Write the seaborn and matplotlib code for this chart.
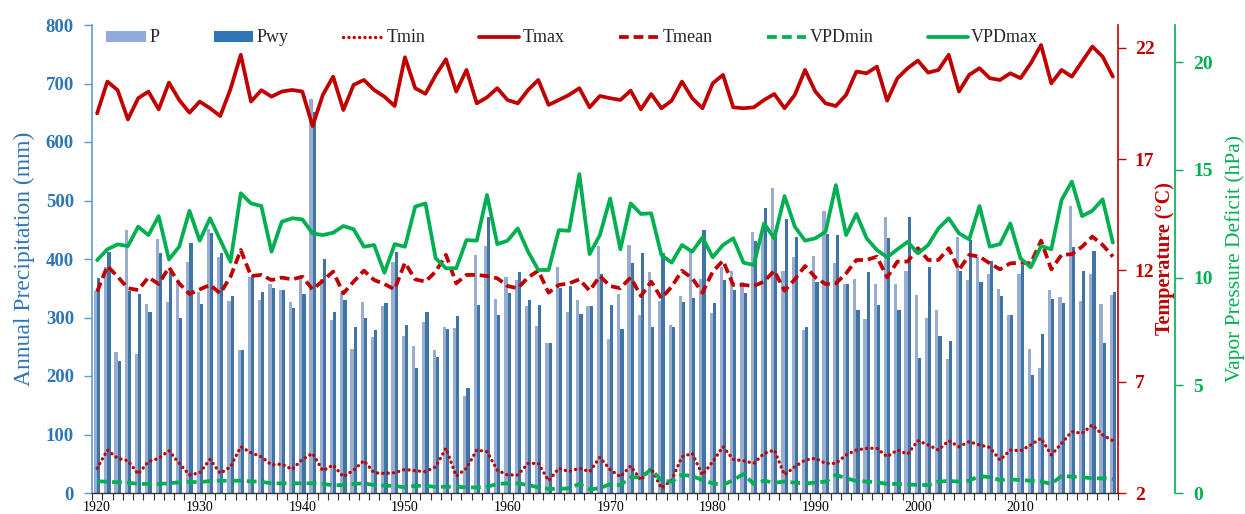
import numpy as np
import pandas as pd
import matplotlib
matplotlib.use("Agg")
import matplotlib.pyplot as plt
from matplotlib.patches import Patch
from matplotlib.lines import Line2D
from matplotlib.ticker import FixedLocator, NullFormatter
import seaborn as sns

# ---------------------------------------------------------------- data
years = list(range(1920, 2020))

# annual precipitation (mm): calendar year and water year
P = [346, 386, 241, 450, 237, 323, 434, 327, 359, 395, 343, 451, 403, 329, 244, 370, 330,
     357, 347, 326, 365, 673, 366, 296, 342, 246, 327, 267, 319, 395, 268, 251, 293, 244,
     283, 282, 166, 407, 422, 331, 370, 364, 320, 285, 257, 387, 309, 330, 320, 422, 263,
     341, 424, 304, 377, 329, 288, 336, 413, 366, 308, 386, 380, 361, 447, 444, 521,
     380, 404, 279, 405, 482, 393, 357, 366, 298, 358, 472, 357, 380, 339, 300, 312, 229,
     437, 364, 403, 374, 348, 304, 375, 247, 214, 347, 335, 491, 329, 375, 323, 339]
Pwy = [367, 412, 225, 345, 341, 309, 410, 378, 299, 428, 323, 444, 410, 336, 245, 372, 343,
       350, 347, 317, 340, 652, 400, 309, 330, 284, 300, 279, 324, 412, 288, 213, 309, 232,
       281, 303, 180, 322, 472, 304, 342, 378, 330, 321, 257, 351, 354, 306, 320, 374, 321,
       281, 394, 410, 283, 410, 284, 327, 333, 450, 324, 364, 347, 342, 430, 488, 450,
       469, 437, 283, 360, 442, 441, 357, 313, 378, 321, 436, 313, 471, 230, 387, 268, 259,
       380, 432, 361, 397, 337, 304, 390, 202, 271, 331, 324, 421, 380, 414, 257, 344]

# air temperature (deg C)
Tmin = [3.11, 3.93, 3.56, 3.45, 2.85, 3.41, 3.56, 3.90, 3.33, 2.81, 2.91, 3.51, 2.88, 3.18, 4.08, 3.81, 3.63,
        3.26, 3.30, 3.06, 3.51, 3.78, 3.00, 3.26, 2.73, 3.03, 3.45, 2.91, 2.88, 2.91, 3.06, 3.00, 2.96, 3.18,
        4.01, 2.76, 3.11, 3.93, 3.86, 3.03, 2.81, 2.81, 3.33, 3.33, 2.55, 3.11, 2.96, 3.11, 2.96, 3.60, 3.05,
        2.73, 3.21, 2.58, 3.11, 2.21, 2.58, 3.63, 3.78, 2.81, 3.41, 4.08, 3.51, 3.45, 3.33, 3.78, 3.93,
        2.81, 3.18, 3.48, 3.56, 3.33, 3.33, 3.71, 3.93, 4.01, 4.01, 3.63, 3.93, 3.75, 4.35, 4.16, 3.93, 4.35,
        4.08, 4.31, 4.16, 4.05, 3.48, 3.93, 3.90, 4.16, 4.46, 3.71, 4.23, 4.76, 4.68, 5.06, 4.61, 4.35]
Tmax = [19.06, 20.49, 20.10, 18.79, 19.74, 20.04, 19.24, 20.44, 19.66, 19.09, 19.59, 19.29, 18.94, 20.15, 21.69, 19.59, 20.10,
        19.81, 20.04, 20.11, 20.04, 18.49, 19.89, 20.71, 19.21, 20.34, 20.56, 20.11, 19.81, 19.39, 21.58, 20.19, 19.94, 20.78,
        21.49, 20.04, 21.01, 19.51, 19.78, 20.19, 19.66, 19.51, 20.11, 20.56, 19.44, 19.66, 19.89, 20.19, 19.33, 19.84, 19.74,
        19.66, 20.08, 19.24, 19.93, 19.29, 19.63, 20.49, 19.74, 19.29, 20.41, 20.79, 19.33, 19.29, 19.33, 19.66, 19.93,
        19.29, 19.89, 21.01, 20.04, 19.51, 19.39, 19.89, 20.94, 20.86, 21.16, 19.63, 20.64, 21.09, 21.43, 20.89, 21.01, 21.69,
        20.04, 20.79, 21.09, 20.64, 20.56, 20.86, 20.64, 21.31, 22.13, 20.41, 21.01, 20.71, 21.39, 22.06, 21.61, 20.71]
Tmean = [11.05, 12.20, 11.72, 11.20, 11.12, 11.69, 11.39, 12.14, 11.42, 10.94, 11.15, 11.35, 10.97, 11.72, 12.92, 11.75, 11.80,
         11.57, 11.68, 11.60, 11.72, 11.15, 11.54, 11.95, 10.97, 11.50, 11.99, 11.57, 11.39, 11.15, 12.35, 11.60, 11.50, 11.95,
         12.70, 11.42, 11.80, 11.80, 11.75, 11.65, 11.30, 11.20, 11.69, 11.99, 11.00, 11.35, 11.42, 11.60, 11.09, 11.75, 11.30,
         11.20, 11.69, 10.85, 11.50, 10.75, 11.27, 11.99, 11.65, 11.00, 11.95, 12.44, 11.35, 11.35, 11.30, 11.50, 11.99,
         11.09, 11.60, 12.20, 11.69, 11.39, 11.42, 11.87, 12.47, 12.47, 12.62, 11.69, 12.40, 12.40, 13.00, 12.47, 12.47, 13.00,
         12.02, 12.70, 12.62, 12.32, 12.05, 12.32, 12.35, 12.32, 13.34, 12.05, 12.70, 12.73, 13.07, 13.52, 13.15, 12.62]

# vapor pressure deficit (hPa)
VPDmin = [0.55, 0.52, 0.50, 0.48, 0.42, 0.42, 0.42, 0.45, 0.50, 0.52, 0.50, 0.56, 0.57, 0.57, 0.57, 0.54, 0.52,
          0.45, 0.45, 0.45, 0.45, 0.45, 0.42, 0.36, 0.37, 0.42, 0.45, 0.37, 0.34, 0.33, 0.26, 0.33, 0.34, 0.28,
          0.29, 0.29, 0.26, 0.26, 0.29, 0.42, 0.45, 0.45, 0.37, 0.26, 0.19, 0.19, 0.22, 0.42, 0.17, 0.22, 0.42,
          0.37, 0.73, 0.73, 1.10, 0.57, 0.53, 0.84, 0.79, 0.60, 0.45, 0.37, 0.60, 0.88, 0.42, 0.57, 0.48,
          0.53, 0.48, 0.45, 0.48, 0.53, 0.84, 0.68, 0.56, 0.53, 0.50, 0.42, 0.42, 0.40, 0.37, 0.37, 0.53, 0.56,
          0.53, 0.57, 0.79, 0.73, 0.60, 0.63, 0.60, 0.57, 0.53, 0.42, 0.79, 0.76, 0.73, 0.68, 0.68, 0.63]
VPDmax = [10.81, 11.31, 11.54, 11.46, 12.36, 11.97, 12.85, 10.84, 11.43, 13.10, 11.71, 12.75, 11.74, 10.73, 13.91, 13.44, 13.32,
          11.20, 12.59, 12.75, 12.70, 12.05, 11.97, 12.08, 12.39, 12.24, 11.43, 11.51, 10.22, 11.55, 11.43, 13.29, 13.44, 10.89,
          10.43, 10.43, 11.74, 11.71, 13.83, 11.55, 11.71, 12.28, 11.20, 10.35, 10.35, 12.20, 12.17, 14.80, 11.09, 11.97, 13.67,
          11.31, 13.44, 12.95, 12.98, 11.04, 10.69, 11.51, 11.20, 11.86, 10.94, 11.51, 11.82, 10.69, 10.58, 12.51, 11.82,
          13.78, 12.36, 11.71, 11.82, 12.13, 14.29, 11.97, 12.95, 11.82, 11.28, 10.94, 11.31, 11.66, 11.12, 11.51, 12.28, 12.75,
          12.05, 11.77, 13.32, 11.43, 11.55, 12.51, 10.89, 10.47, 11.46, 11.31, 13.60, 14.45, 12.85, 13.10, 13.63, 11.62]

decade_labels = [str(y) for y in range(1920, 2020, 10)]

# ---------------------------------------------------------------- style
sns.set_theme(style="white")
plt.rcParams["font.family"] = ["Liberation Serif", "DejaVu Serif"]

LIGHT = "#8FAADC"
DARK = "#2E75B6"
AXBLUE = "#5B9BD5"
RED = "#C00000"
GREEN = "#00B050"

W, H = 1245, 514
fig = plt.figure(figsize=(W / 100, H / 100), dpi=100)
ax = fig.add_axes([92 / W, 21 / H, 1026 / W, 468 / H])
ax_t = ax.twinx()
ax_v = ax.twinx()
# third axis sits to the right of the temperature axis
ax_v.spines["right"].set_position(("axes", (1175 - 92) / 1026))

# ---------------------------------------------------------------- bars
bars = pd.DataFrame({
    "year": years * 2,
    "precip": P + Pwy,
    "series": ["P"] * len(P) + ["Pwy"] * len(Pwy),
})
sns.barplot(data=bars, x="year", y="precip", hue="series",
            palette={"P": LIGHT, "Pwy": DARK}, native_scale=True,
            width=0.62, dodge=True, linewidth=0, errorbar=None,
            legend=False, ax=ax)

ax.set_xlim(1919.5, 2019.5)
ax.set_ylim(0, 800)
ax.set_xlabel("")

# left axis (precipitation)
ax.set_yticks(range(0, 801, 100))
ax.set_yticklabels([str(v) for v in range(0, 801, 100)], fontweight="bold",
                   fontsize=13.5, color=DARK)
ax.tick_params(axis="y", which="major", direction="out", length=6, width=1,
               color=AXBLUE, pad=7, left=True)
ax.set_ylabel("Annual Precipitation (mm)", color=DARK, fontsize=17)
ax.yaxis.set_label_coords(-0.056, 0.5)

# bottom axis: year ticks at category edges, decade labels at centres
ax.xaxis.set_major_locator(FixedLocator(list(range(1920, 2020, 10))))
ax.set_xticklabels(decade_labels, fontsize=10, color="black")
ax.xaxis.set_minor_locator(FixedLocator([y - 0.5 for y in years] + [2019.5]))
ax.xaxis.set_minor_formatter(NullFormatter())
ax.tick_params(axis="x", which="major", length=0, pad=6)
ax.tick_params(axis="x", which="minor", direction="out", length=5, width=0.8,
               color="#333333", bottom=True)

for s in ("top", "right"):
    ax.spines[s].set_visible(False)
ax.spines["left"].set_color(AXBLUE)
ax.spines["left"].set_linewidth(1.2)
ax.spines["bottom"].set_color("#333333")
ax.spines["bottom"].set_linewidth(1.0)

# ---------------------------------------------------------------- temperature
dash_t = (0, (2.6, 1.3))
dot_t = (0, (0.05, 1.55))
sns.lineplot(x=years, y=Tmax, ax=ax_t, color=RED, linewidth=2.7, legend=False)
sns.lineplot(x=years, y=Tmean, ax=ax_t, color=RED, linewidth=2.7,
             linestyle=dash_t, legend=False)
sns.lineplot(x=years, y=Tmin, ax=ax_t, color=RED, linewidth=2.4,
             linestyle=dot_t, dash_capstyle="round", legend=False)
ax_t.set_ylim(2, 23.03)
ax_t.set_yticks([2, 7, 12, 17, 22])
ax_t.set_yticklabels(["2", "7", "12", "17", "22"], fontweight="bold",
                     fontsize=14, color=RED)
ax_t.tick_params(axis="y", direction="out", length=6, width=1, color=RED,
                 pad=6, right=True)
ax_t.set_ylabel("Temperature (\u00b0C)", color=RED, fontsize=14.5,
                fontweight="bold")
ax_t.yaxis.set_label_coords(1.036, 0.5)
for s in ("top", "left", "bottom"):
    ax_t.spines[s].set_visible(False)
ax_t.spines["right"].set_color(RED)
ax_t.spines["right"].set_linewidth(1.2)

# ---------------------------------------------------------------- vapor pressure deficit
dash_v = (0, (2.6, 1.4))
sns.lineplot(x=years, y=VPDmax, ax=ax_v, color=GREEN, linewidth=2.7, legend=False)
sns.lineplot(x=years, y=VPDmin, ax=ax_v, color=GREEN, linewidth=2.7,
             linestyle=dash_v, legend=False)
ax_v.set_ylim(0, 21.72)
ax_v.set_yticks([0, 5, 10, 15, 20])
ax_v.set_yticklabels(["0", "5", "10", "15", "20"], fontweight="bold",
                     fontsize=14, color=GREEN)
ax_v.tick_params(axis="y", direction="out", length=6, width=1, color=GREEN,
                 pad=7, right=True)
ax_v.set_ylabel("Vapor Pressure Deficit (hPa)", color=GREEN, fontsize=15.5)
ax_v.yaxis.set_label_coords(1.104, 0.5)
for s in ("top", "left", "bottom"):
    ax_v.spines[s].set_visible(False)
ax_v.spines["right"].set_color(GREEN)
ax_v.spines["right"].set_linewidth(1.2)

for a in (ax, ax_t, ax_v):
    a.set_xlim(1919.5, 2019.5)
    a.grid(False)

# ---------------------------------------------------------------- legend
handles = [
    Patch(facecolor=LIGHT, edgecolor="none", label="P"),
    Patch(facecolor=DARK, edgecolor="none", label="Pwy"),
    Line2D([], [], color=RED, linewidth=2.4, linestyle=dot_t,
           dash_capstyle="round", label="Tmin"),
    Line2D([], [], color=RED, linewidth=2.7, label="Tmax"),
    Line2D([], [], color=RED, linewidth=2.7, linestyle=dash_t, label="Tmean"),
    Line2D([], [], color=GREEN, linewidth=2.7, linestyle=dash_v, label="VPDmin"),
    Line2D([], [], color=GREEN, linewidth=2.7, label="VPDmax"),
]
fig.legend(handles=handles, loc="center left",
           bbox_to_anchor=(106 / W, 1 - 38 / H), ncol=7, frameon=False,
           fontsize=13, handlelength=2.2, handleheight=0.55,
           handletextpad=0.2, columnspacing=3.0, borderpad=0,
           borderaxespad=0)

fig.savefig("out.png", dpi=100)
